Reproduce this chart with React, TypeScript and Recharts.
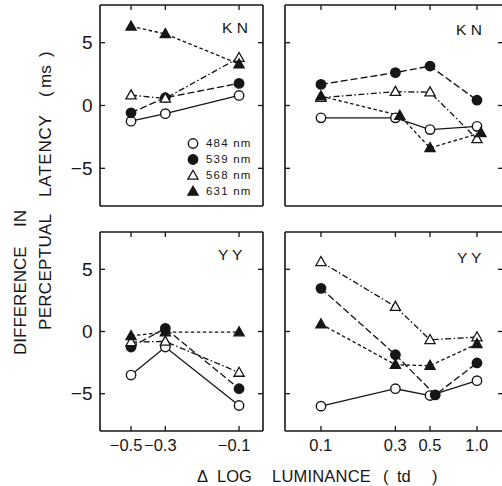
import React from 'react';
import { LineChart, Line, XAxis, YAxis, Legend } from 'recharts';

const FONT = '"Liberation Sans", Arial, Helvetica, sans-serif';
const INK = '#161616';

// Δ log luminance (td) at which each panel was measured
const NEG_X = [-0.5, -0.3, -0.1];
const POS_X = [0.1, 0.3, 0.5, 1.0];
const NEG_TICKS = [-0.5, -0.3, -0.1];
const POS_TICKS = [0.1, 0.3, 0.5, 1.0];
const Y_TICKS = [-5, 0, 5];

// subject KN, difference in perceptual latency (ms)
const KN_NEG_484 = [-1.25, -0.65, 0.8];
const KN_NEG_539 = [-0.58, 0.62, 1.76];
const KN_NEG_568 = [0.82, 0.56, 3.8];
const KN_NEG_631 = [6.3, 5.7, 3.3];

const KN_POS_484 = [-0.98, -0.98, -1.92, -1.66];
const KN_POS_539 = [1.68, 2.62, 3.14, 0.42];
const KN_POS_568 = [0.62, 1.1, 1.06, -2.66];
const KN_POS_631 = [0.74, -0.8, -3.38, -2.18];
// this one is drawn a little off its column in the original
const KN_POS_X_631 = [0.1, 0.32, 0.5, 1.06];

// subject YY
const YY_NEG_484 = [-3.5, -1.25, -5.95];
const YY_NEG_539 = [-1.25, 0.25, -4.6];
const YY_NEG_568 = [-0.85, -0.8, -3.3];
const YY_NEG_631 = [-0.35, -0.05, -0.05];

const YY_POS_484 = [-6.0, -4.6, -5.15, -3.95];
const YY_POS_539 = [3.47, -1.87, -5.1, -2.53];
const YY_POS_568 = [5.6, 2.0, -0.67, -0.45];
const YY_POS_631 = [0.6, -2.67, -2.75, -1.0];
const YY_POS_X_539 = [0.1, 0.3, 0.54, 1.0];

type Series = { name: string; shape: 'circle' | 'triangle'; filled: boolean; dash?: string };

const S484: Series = { name: '484 nm', shape: 'circle', filled: false };
const S539: Series = { name: '539 nm', shape: 'circle', filled: true, dash: '7 3' };
const S568: Series = { name: '568 nm', shape: 'triangle', filled: false, dash: '6 2.5 1.5 2.5' };
const S631: Series = { name: '631 nm', shape: 'triangle', filled: true, dash: '3.5 2.5' };
const SERIES = [S484, S539, S568, S631];

function Marker({ cx, cy, s }: { cx?: number; cy?: number; s: Series }) {
  if (cx == null || cy == null) return null;
  const fill = s.filled ? INK : '#fff';
  if (s.shape === 'circle') {
    return <circle cx={cx} cy={cy} r={4.7} fill={fill} stroke={INK} strokeWidth={1.4} />;
  }
  const pts = `${cx},${cy - 5.3} ${cx + 5.1},${cy + 3.7} ${cx - 5.1},${cy + 3.7}`;
  return <polygon points={pts} fill={fill} stroke={INK} strokeWidth={1.3} strokeLinejoin="miter" />;
}

function LegendBox() {
  return (
    <div style={{ fontFamily: FONT, fontSize: 11.5, letterSpacing: 1.2, color: INK }}>
      {SERIES.map((s) => (
        <div key={s.name} style={{ display: 'flex', alignItems: 'center', height: 16 }}>
          <svg width={14} height={14} style={{ display: 'block' }}>
            <Marker cx={7} cy={7.5} s={s} />
          </svg>
          <span style={{ marginLeft: 6 }}>{s.name}</span>
        </div>
      ))}
    </div>
  );
}

// x labels: the digits sit centred on the tick and the minus sign hangs to the left
function XTick({ x, y, payload, neg }: any) {
  const v = payload.value as number;
  const label = neg ? '\u2212' + v : v.toFixed(1);
  return (
    <text x={x + 11.3} y={y} dy={12.5} textAnchor="end" fontSize={16.5} fontFamily={FONT} fill={INK}>
      {label}
    </text>
  );
}

type LineDef = { s: Series; x: number[]; y: number[] };
type Box = { l: number; t: number; r: number; b: number };

const W = 510;
const H = 486;

function Panel({ box, neg, lines, showX, showY, legend }: {
  box: Box; neg: boolean; lines: LineDef[]; showX: boolean; showY: boolean; legend?: boolean;
}) {
  const xCommon = neg
    ? {
        dataKey: (d: any) => -d.x,
        domain: [0.07, 0.794],
        reversed: true,
        ticks: NEG_TICKS.map((v) => -v),
      }
    : {
        dataKey: 'x',
        domain: [0.0588, 1.468],
        reversed: false,
        ticks: POS_TICKS,
      };
  const fmtY = (v: number) => (v < 0 ? '\u2212' + Math.abs(v) : String(v));
  const blank = () => '';
  const axisLine = { stroke: INK, strokeWidth: 1.6 };
  const tickLine = { stroke: INK, strokeWidth: 1.3 };

  // every axis is 1px thick, so the margins leave that pixel out
  return (
    <div style={{ position: 'absolute', left: 0, top: 0 }}>
      <LineChart
        width={W}
        height={H}
        margin={{ top: box.t - 1, left: box.l - 1, right: W - box.r - 1, bottom: H - box.b - 1 }}
      >
        <XAxis
          xAxisId="b"
          type="number"
          scale="log"
          allowDataOverflow
          {...(xCommon as any)}
          orientation="bottom"
          height={1}
          interval={0}
          tickSize={-5}
          tickMargin={12}
          axisLine={axisLine}
          tickLine={tickLine}
          tick={showX ? (p: any) => <XTick {...p} neg={neg} /> : false}
        />
        <XAxis
          xAxisId="t"
          type="number"
          scale="log"
          allowDataOverflow
          {...(xCommon as any)}
          orientation="top"
          height={1}
          interval={0}
          tickSize={-5}
          axisLine={axisLine}
          tickLine={tickLine}
          tickFormatter={blank}
        />
        <YAxis
          yAxisId="l"
          type="number"
          domain={[-8, 8]}
          allowDataOverflow
          ticks={Y_TICKS}
          interval={0}
          width={1}
          tickSize={-5}
          tickMargin={12.5}
          axisLine={axisLine}
          tickLine={tickLine}
          tick={{ fill: INK, fontSize: 19, fontFamily: FONT }}
          tickFormatter={showY ? fmtY : blank}
        />
        <YAxis
          yAxisId="r"
          orientation="right"
          type="number"
          domain={[-8, 8]}
          allowDataOverflow
          ticks={Y_TICKS}
          interval={0}
          width={1}
          tickSize={-5}
          axisLine={axisLine}
          tickLine={tickLine}
          tickFormatter={blank}
        />
        {lines.map((ln, i) => (
          <Line
            key={ln.s.name + i}
            xAxisId="b"
            yAxisId="l"
            data={ln.x.map((xv, j) => ({ x: xv, y: ln.y[j] }))}
            dataKey="y"
            stroke={INK}
            strokeWidth={1.35}
            strokeDasharray={ln.s.dash}
            dot={(p: any) => <Marker key={'m' + i + '-' + p.index} cx={p.cx} cy={p.cy} s={ln.s} />}
            activeDot={false}
            isAnimationActive={false}
          />
        ))}
        {legend && (
          <Legend
            layout="vertical"
            align="center"
            verticalAlign="middle"
            content={() => <LegendBox />}
            wrapperStyle={{ position: 'absolute', left: 186, top: 135, width: 80, height: 64 }}
          />
        )}
      </LineChart>
    </div>
  );
}

const TOP_L: Box = { l: 100, t: 5, r: 263, b: 206 };
const TOP_R: Box = { l: 285, t: 5, r: 503, b: 206 };
const BOT_L: Box = { l: 100, t: 232, r: 263, b: 431 };
const BOT_R: Box = { l: 285, t: 232, r: 503, b: 431 };

export default function App() {
  const txt = { fontFamily: FONT, fill: INK } as const;
  return (
    <div
      style={{
        position: 'absolute',
        left: 0,
        top: 0,
        width: 502,
        height: 486,
        overflow: 'hidden',
        background: '#fff',
      }}
    >
      <Panel
        box={TOP_L}
        neg
        showX={false}
        showY
        legend
        lines={[
          { s: S484, x: NEG_X, y: KN_NEG_484 },
          { s: S539, x: NEG_X, y: KN_NEG_539 },
          { s: S568, x: NEG_X, y: KN_NEG_568 },
          { s: S631, x: NEG_X, y: KN_NEG_631 },
        ]}
      />
      <Panel
        box={TOP_R}
        neg={false}
        showX={false}
        showY={false}
        lines={[
          { s: S484, x: POS_X, y: KN_POS_484 },
          { s: S539, x: POS_X, y: KN_POS_539 },
          { s: S568, x: POS_X, y: KN_POS_568 },
          { s: S631, x: KN_POS_X_631, y: KN_POS_631 },
        ]}
      />
      <Panel
        box={BOT_L}
        neg
        showX
        showY
        lines={[
          { s: S484, x: NEG_X, y: YY_NEG_484 },
          { s: S539, x: NEG_X, y: YY_NEG_539 },
          { s: S568, x: NEG_X, y: YY_NEG_568 },
          { s: S631, x: NEG_X, y: YY_NEG_631 },
        ]}
      />
      <Panel
        box={BOT_R}
        neg={false}
        showX
        showY={false}
        lines={[
          { s: S484, x: POS_X, y: YY_POS_484 },
          { s: S539, x: YY_POS_X_539, y: YY_POS_539 },
          { s: S568, x: POS_X, y: YY_POS_568 },
          { s: S631, x: POS_X, y: YY_POS_631 },
        ]}
      />

      <svg
        width={502}
        height={486}
        style={{ position: 'absolute', left: 0, top: 0, pointerEvents: 'none' }}
      >
        <text x={222} y={33} fontSize={15.5} {...txt}>K N</text>
        <text x={456} y={35} fontSize={15.5} {...txt}>K N</text>
        <text x={218} y={260} fontSize={15.5} {...txt}>Y Y</text>
        <text x={457} y={263} fontSize={15.5} {...txt}>Y Y</text>

        <text y={482} fontSize={16.5} {...txt}>
          <tspan x={197}>Δ</tspan>
          <tspan x={217}>LOG</tspan>
          <tspan x={272} letterSpacing={0.2}>LUMINANCE</tspan>
          <tspan x={383}>(</tspan>
          <tspan x={397}>td</tspan>
          <tspan x={432}>)</tspan>
        </text>

        <text transform="translate(26,0) rotate(-90)" y={0} fontSize={17} {...txt}>
          <tspan x={-355}>DIFFERENCE</tspan>
          <tspan x={-227}>IN</tspan>
        </text>
        <text transform="translate(51,0) rotate(-90)" y={0} fontSize={17} {...txt}>
          <tspan x={-330} letterSpacing={0.3}>PERCEPTUAL</tspan>
          <tspan x={-197} letterSpacing={0.8}>LATENCY</tspan>
          <tspan x={-97}>(</tspan>
          <tspan x={-88}>ms</tspan>
          <tspan x={-57}>)</tspan>
        </text>
      </svg>
    </div>
  );
}
